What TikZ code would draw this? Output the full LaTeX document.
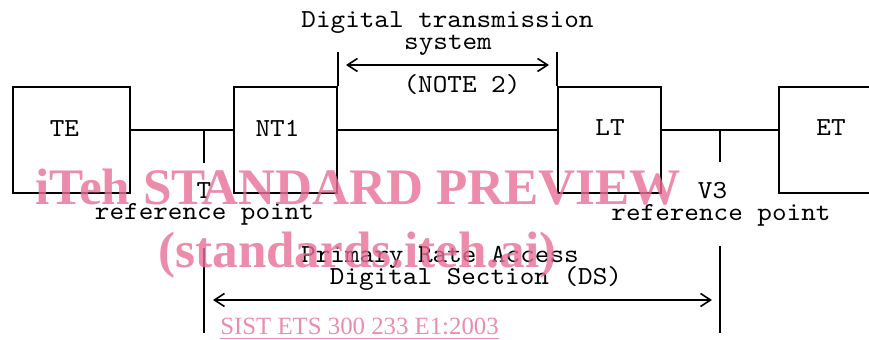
\documentclass[tikz,border=0pt]{standalone}
\usepackage{fontspec}
\newfontfamily\monofam[FakeStretch=1.07]{lmmono10-regular.otf}
\newfontfamily\wmfam{Liberation Serif}
\usetikzlibrary{arrows.meta}
\definecolor{wmpink}{RGB}{233,110,150}
\tikzset{
  unitbox/.style={draw, line width=1pt, rectangle, minimum height=53pt, inner sep=0pt},
  lbl/.style={font=\monofam\fontsize{13}{15}\selectfont, inner sep=0pt, anchor=base},
  wire/.style={line width=1pt},
  dimarrow/.style={line width=0.8pt, {Straight Barb[length=5pt,width=6.5pt]}-{Straight Barb[length=5pt,width=6.5pt]}},
  wmbig/.style={font=\wmfam\bfseries\fontsize{25.6}{30}\selectfont, text=wmpink, opacity=0.8, inner sep=0pt, anchor=base west},
  wmsmall/.style={font=\wmfam\fontsize{12.4}{15}\selectfont, text=wmpink, opacity=0.8, inner sep=0pt, anchor=base west}
}
\begin{document}
\begin{tikzpicture}[x=0.5pt,y=-0.5pt]
\useasboundingbox (0,0) rectangle (869,340);
% boxes
\node[unitbox, minimum width=58.5pt] (TE) at (71.5,140) {};
\node[unitbox, minimum width=51.5pt] (NT1) at (285.5,140) {};
\node[unitbox, minimum width=51.5pt] (LT) at (609.5,140) {};
\node[unitbox, minimum width=58.5pt] (ET) at (837.5,140) {};
% box labels
\node[lbl] (tTE) at (64.5,137) {TE};
\node[lbl] (tNT1) at (277.5,137) {NT1};
\node[lbl] (tLT) at (610,136) {LT};
\node[lbl] (tET) at (831,136) {ET};
% connectors
\draw[wire] ([yshift=5pt]TE.east) -- ([yshift=5pt]NT1.west);
\draw[wire] ([yshift=5pt]NT1.east) -- ([yshift=5pt]LT.west);
\draw[wire] ([yshift=5pt]LT.east) -- ([yshift=5pt]ET.west);
% reference point ticks
\coordinate (Ttick) at (204,130);
\coordinate (Vtick) at (720,130);
\draw[wire] (Ttick) -- ++(0,33);
\draw[wire] (Vtick) -- ++(0,32);
% transmission system extent
\draw[wire] (NT1.north east) -- ++(0,-34) coordinate (dtsL);
\draw[wire] (LT.north west) -- ++(0,-34) coordinate (dtsR);
\coordinate (aL) at (346,65);
\coordinate (aR) at (549,65);
\draw[dimarrow] (aL) -- (aR);
\node[lbl] (dts1) at (447.5,28) {Digital transmission};
\node[lbl] (dts2) at (448,50) {system};
\node[lbl] (note2) at (462,93) {(NOTE 2)};
% reference point labels
\node[lbl] (Tlab) at (204,199) {T};
\node[lbl] (Tref) at (204.5,220) {reference point};
\node[lbl] (Vlab) at (712.5,199) {V3};
\node[lbl] (Vref) at (721,221) {reference point};
% digital section
\coordinate (dsLt) at (204,248);
\coordinate (dsLb) at (204,333);
\coordinate (dsRt) at (720,246);
\coordinate (dsRb) at (720,333);
\draw[wire] (dsLt) -- (dsLb);
\draw[wire] (dsRt) -- (dsRb);
\coordinate (bL) at (213,300);
\coordinate (bR) at (712,300);
\draw[dimarrow] (bL) -- (bR);
\node[lbl] (ds1) at (440,263) {Primary Rate Access};
\node[lbl] (ds2) at (476,285) {Digital Section (DS)};
% watermark
\node[wmbig] (wm1) at (35,205) {iTeh STANDARD PREVIEW};
\node[wmbig] (wm2) at (158,268) {(standards.iteh.ai)};
\node[wmsmall] (wm3) at (220,335) {\underline{SIST ETS 300 233 E1:2003}};
\end{tikzpicture}
\end{document}
